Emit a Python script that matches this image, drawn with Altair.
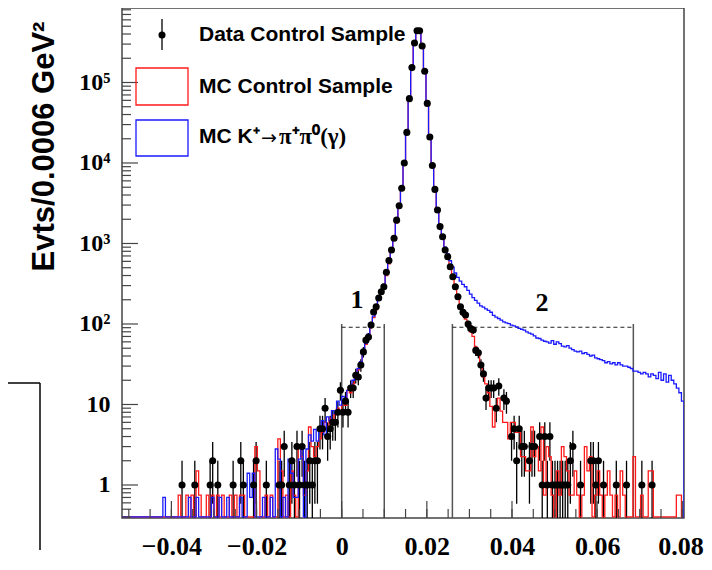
import altair as alt
import pandas as pd

# ---------------- values ----------------
X_DOMAIN = [-0.0516, 0.0804]
Y_DOMAIN = [0.389, 8.42e5]
BIN_START = -0.0516
BIN_WIDTH = 0.0006

DATA_COUNTS = [
    0, 0, 0, 0, 0, 0, 0, 0, 0, 0,
    0, 0, 0, 0, 0, 0, 0, 0, 0, 0,
    0, 0, 0, 1, 0, 0, 0, 0, 1, 0,
    0, 0, 0, 0, 1, 2, 0, 1, 0, 0,
    0, 0, 0, 1, 0, 0, 2, 1, 0, 0,
    0, 1, 2, 0, 0, 0, 1, 0, 0, 0,
    0, 1, 1, 3, 0, 1, 2, 1, 3, 1,
    3, 1, 1, 2, 1, 2, 2, 5, 5, 9,
    4, 5, 6, 6, 8, 15, 8, 11, 8, 16,
    16, 23, 22, 31, 45, 63, 69, 97, 141, 164,
    210, 252, 290, 440, 615, 830, 1160, 1950, 2950, 4850,
    10000, 24000, 63000, 153000, 310000, 440000, 440000, 284000, 138000, 55000,
    21000, 9300, 4700, 2600, 1620, 1215, 830, 685, 515, 387,
    290, 218, 164, 140, 129, 100, 88, 84, 47, 44,
    31, 24, 12, 16, 16, 16, 9, 17, 0, 12,
    11, 0, 4, 5, 2, 5, 3, 3, 0, 2,
    3, 3, 0, 4, 1, 4, 1, 4, 1, 1,
    1, 1, 1, 1, 1, 2, 3, 0, 0, 1,
    0, 0, 0, 2, 2, 1, 2, 0, 1, 0,
    0, 0, 0, 1, 0, 0, 0, 1, 0, 0,
    0, 0, 0, 1, 0, 0, 0, 1, 0, 0,
    0, 0, 0, 0, 0, 0, 0, 0, 0, 0,
]

MC_CONTROL = [
    0, 0, 0, 0, 0, 0, 0, 0, 0, 0,
    0, 0, 0, 0, 0, 0, 0, 0, 0, 0,
    0, 0, 0.75, 0, 0, 0.75, 0, 0.75, 0, 1.5,
    0.75, 0, 0, 0.75, 0, 0.75, 0, 0.75, 0, 0.75,
    0, 0, 0.75, 0, 0.75, 0, 0.75, 0.75, 0, 0,
    0, 0, 3, 1.5, 0, 0, 0.75, 0, 0.75, 0,
    0, 3.75, 1.5, 0, 0.75, 0, 1.5, 0.75, 0, 3,
    2.25, 0.75, 1.5, 5.25, 3, 2.25, 3, 3.75, 4.5, 6,
    5.25, 6.75, 6, 7.5, 9, 8.25, 11, 9.75, 15, 14,
    18, 22, 27, 32, 42, 56, 72, 90, 120, 150,
    200, 250, 300, 400, 560, 800, 1150, 1800, 2900, 4700,
    9800, 23000, 62000, 150000, 300000, 430000, 430000, 280000, 135000, 54000,
    20000, 9000, 4500, 2500, 1550, 1150, 780, 640, 480, 360,
    270, 205, 155, 130, 115, 95, 80, 70, 52, 42,
    30, 22, 18, 14, 9.5, 5.25, 9, 12, 8.25, 6,
    6, 3.75, 6, 6, 4.5, 4.5, 2.25, 2.25, 1.5, 1.5,
    5.25, 2.25, 3, 1.5, 5.25, 0.75, 3, 2.25, 0.75, 0,
    1.5, 0.75, 3, 2.25, 1.5, 0.75, 0.75, 1.5, 0.75, 0,
    0.75, 3, 1.5, 2.25, 0, 0.75, 1.5, 0.75, 0, 0.75,
    1.5, 0.75, 0, 0.75, 0, 1.5, 0.75, 0, 0, 0,
    2.25, 0, 0, 0.75, 0, 0, 1.5, 1.5, 0, 0,
    0, 0, 0, 0, 0, 0, 0, 0.75, 0.75, 0,
]

MC_KPI = [
    0, 0, 0, 0, 0, 0, 0, 0, 0, 0,
    0, 0, 0, 0, 0, 0, 0.7, 0, 0, 0,
    0, 0, 0, 0, 0, 0, 0.7, 0, 0, 0.7,
    0, 0, 0, 0, 0, 0.7, 0, 0, 0.7, 0,
    0, 0.7, 0, 0, 0, 0, 0.7, 0, 0, 1.4,
    0.7, 1.4, 0, 0, 0, 0.7, 0, 0, 0.7, 0,
    2.8, 2.1, 0, 0.7, 0, 2.1, 1.4, 0.7, 0.7, 2.1,
    2.8, 0, 2.8, 4.2, 3.5, 4.9, 3.5, 4.9, 6.3, 4.2,
    7, 6.3, 8.4, 7.7, 11, 9.8, 12.6, 11.2, 15, 16,
    20, 24, 28, 34, 44, 58, 75, 95, 125, 160,
    205, 255, 310, 420, 580, 820, 1200, 1900, 3000, 5000,
    10500, 25000, 64000, 155000, 310000, 440000, 445000, 290000, 140000, 56000,
    21000, 9500, 4800, 2700, 1700, 1250, 900, 750, 610, 510,
    430, 380, 340, 310, 290, 262, 235, 212, 196, 182,
    168, 162, 154, 148, 140, 128, 122, 117, 112, 106,
    103, 101, 97, 95, 92, 88, 86, 84, 80, 77,
    75, 71, 67, 66, 63, 61, 60, 58, 62, 56,
    60, 57, 53, 52, 54, 50, 48, 46, 45, 46,
    43, 44, 42, 40, 41, 38, 37, 36, 35, 33,
    34, 32, 33, 31, 33, 31, 30, 30, 29, 28,
    26, 26, 25, 24, 25, 24, 22, 24, 23, 21,
    25, 20, 24, 19, 23, 20, 18, 16, 14, 11,
]

REGION_EDGES = [0.0, 0.01, 0.026, 0.0685]
REGION_TOP = 100
REGION_DASH = 91

X_TICK_LABELS = [-0.04, -0.02, 0, 0.02, 0.04, 0.06, 0.08]
Y_TICK_LABELS = [1, 10, 100, 1000, 10000, 100000]

LEGEND_LABELS = ["Data Control Sample", "MC Control Sample", "MC K\u207a", "\u2192", "\u03c0\u207a\u03c0\u2070(\u03b3)"]
Y_TITLE = "Evts/0.0006 GeV\u00b2"

W, H = 562, 510
FLOOR = Y_DOMAIN[0] * 1.035   # empty bins drawn along the bottom of the frame


# ---------------- tables ----------------
def step_table(values):
    rows = [{"x": BIN_START, "y": FLOOR, "o": -1}]
    for i, v in enumerate(values):
        lo = BIN_START + i * BIN_WIDTH
        y = v if v > 0 else FLOOR
        rows.append({"x": lo, "y": y, "o": 2 * i})
        rows.append({"x": lo + BIN_WIDTH, "y": y, "o": 2 * i + 1})
    rows.append({"x": BIN_START + len(values) * BIN_WIDTH, "y": FLOOR * 0.5, "o": 2 * len(values)})
    return pd.DataFrame(rows)


red_df = step_table(MC_CONTROL)
blue_df = step_table(MC_KPI)

pts = []
for i, n in enumerate(DATA_COUNTS):
    if n > 0:
        err = n ** 0.5
        lo = n - err
        pts.append({"x": BIN_START + (i + 0.5) * BIN_WIDTH, "y": n,
                    "lo": lo if lo > 0 else Y_DOMAIN[0] * 0.1, "hi": n + err})
pts_df = pd.DataFrame(pts)

sup = {100: "10\u00b2", 1000: "10\u00b3", 10000: "10\u2074", 100000: "10\u2075"}
y_label_expr = ("datum.value == 1 ? '1' : datum.value == 10 ? '10' : "
                "datum.value == 100 ? '%s' : datum.value == 1000 ? '%s' : "
                "datum.value == 10000 ? '%s' : '%s'") % (sup[100], sup[1000], sup[10000], sup[100000])
x_label_expr = ("datum.value == 0 ? '0' : (datum.value < 0 ? '\u2212' : '') + "
                "format(abs(datum.value), '.2f')")

x_scale = alt.Scale(domain=X_DOMAIN, nice=False, zero=False)
y_scale = alt.Scale(type="log", domain=Y_DOMAIN, nice=False)

x_axis = alt.Axis(values=X_TICK_LABELS, labelExpr=x_label_expr, ticks=False, domain=False,
                  grid=False, title=None, labelFont="Liberation Serif", labelFontWeight="bold",
                  labelFontSize=26, labelColor="black", labelPadding=15, labelFlush=6,
                  labelFlushOffset=21, labelOverlap=False)
y_axis = alt.Axis(values=Y_TICK_LABELS, labelExpr=y_label_expr, ticks=False, domain=False,
                  grid=False, title=Y_TITLE, labelFont="Liberation Serif", labelFontWeight="bold",
                  labelFontSize=24, labelColor="black", labelPadding=12, labelFlush=False,
                  labelOverlap=False, titleFont="Liberation Sans", titleFontWeight="bold",
                  titleFontSize=31, titleColor="black", titleAngle=270, titleX=-78, titleY=138,
                  titleAlign="center", titleBaseline="middle")


def X(field):
    return alt.X(field, type="quantitative", scale=x_scale, axis=x_axis)


def Y(field):
    return alt.Y(field, type="quantitative", scale=y_scale, axis=y_axis)


err_layer = alt.Chart(pts_df).mark_rule(color="black", strokeWidth=1.3, clip=True).encode(
    x=X("x"), y=Y("lo"), y2="hi")
red_layer = alt.Chart(red_df).mark_line(color="#ff1a1a", strokeWidth=1.3, clip=True).encode(
    x=X("x"), y=Y("y"), order="o:Q")
blue_layer = alt.Chart(blue_df).mark_line(color="#1a1aff", strokeWidth=1.3, clip=True).encode(
    x=X("x"), y=Y("y"), order="o:Q")
dot_layer = alt.Chart(pts_df).mark_point(filled=True, shape="circle", size=50, color="black",
                                         opacity=1, clip=True).encode(x=X("x"), y=Y("y"))

# region boxes
reg_df = pd.DataFrame({"x": REGION_EDGES, "lo": [Y_DOMAIN[0]] * 4, "hi": [REGION_TOP] * 4})
reg_v = alt.Chart(reg_df).mark_rule(color="#555555", strokeWidth=1.5).encode(
    x=X("x"), y=Y("lo"), y2="hi")
dash_df = pd.DataFrame({"x": [REGION_EDGES[0], REGION_EDGES[2]], "x2": [REGION_EDGES[1], REGION_EDGES[3]],
                        "y": [REGION_DASH, REGION_DASH]})
reg_h = alt.Chart(dash_df).mark_rule(color="#222222", strokeWidth=1.1, strokeDash=[4, 3]).encode(
    x=X("x"), x2="x2", y=Y("y"))

# inside ticks (ROOT style)
minor_y = [m * 10 ** k for k in range(-1, 6) for m in range(2, 10) if Y_DOMAIN[0] < m * 10 ** k < Y_DOMAIN[1]]
ytick_major = alt.Chart(pd.DataFrame({"v": Y_TICK_LABELS})).mark_rule(color="#444444", strokeWidth=1.2).encode(
    x=alt.value(0), x2=alt.value(16), y=Y("v"))
ytick_minor = alt.Chart(pd.DataFrame({"v": minor_y})).mark_rule(color="#444444", strokeWidth=1.2).encode(
    x=alt.value(0), x2=alt.value(9), y=Y("v"))
minor_x = [round(-0.05 + 0.005 * k, 4) for k in range(27)]
xtick_major = alt.Chart(pd.DataFrame({"v": X_TICK_LABELS})).mark_rule(color="#444444", strokeWidth=1.2).encode(
    x=X("v"), y=alt.value(H), y2=alt.value(H - 17))
xtick_minor = alt.Chart(pd.DataFrame({"v": minor_x})).mark_rule(color="#444444", strokeWidth=1.2).encode(
    x=X("v"), y=alt.value(H), y2=alt.value(H - 9))

one = pd.DataFrame({"a": [0]})
font_leg = dict(font="Liberation Sans", fontWeight="bold", fontSize=21, color="black",
                align="left", baseline="middle")
font_sym = dict(font="DejaVu Sans", fontSize=19, color="black", align="left", baseline="middle")
font_greek = dict(font="Liberation Serif", fontWeight="bold", fontSize=23, color="black",
                  align="left", baseline="middle")

leg = [
    alt.Chart(one).mark_rule(color="black", strokeWidth=1.3).encode(
        x=alt.value(40), y=alt.value(11), y2=alt.value(42)),
    alt.Chart(one).mark_point(filled=True, shape="circle", size=50, color="black", opacity=1).encode(
        x=alt.value(40), y=alt.value(27)),
    alt.Chart(one).mark_text(**font_leg).encode(x=alt.value(77), y=alt.value(27), text=alt.value(LEGEND_LABELS[0])),
    alt.Chart(one).mark_rect(fillOpacity=0, stroke="#ff1a1a", strokeWidth=1.3).encode(
        x=alt.value(14), x2=alt.value(66), y=alt.value(60), y2=alt.value(97)),
    alt.Chart(one).mark_text(**font_leg).encode(x=alt.value(77), y=alt.value(79), text=alt.value(LEGEND_LABELS[1])),
    alt.Chart(one).mark_rect(fillOpacity=0, stroke="#1a1aff", strokeWidth=1.3).encode(
        x=alt.value(14), x2=alt.value(66), y=alt.value(112), y2=alt.value(148)),
    alt.Chart(one).mark_text(**font_leg).encode(x=alt.value(77), y=alt.value(129), text=alt.value(LEGEND_LABELS[2])),
    alt.Chart(one).mark_text(**font_sym).encode(x=alt.value(139), y=alt.value(130), text=alt.value(LEGEND_LABELS[3])),
    alt.Chart(one).mark_text(**font_greek).encode(x=alt.value(157), y=alt.value(129), text=alt.value(LEGEND_LABELS[4])),
]

font_reg = dict(font="Liberation Serif", fontWeight="bold", fontSize=26, color="black",
                align="center", baseline="middle")
reg_labels = [
    alt.Chart(one).mark_text(**font_reg).encode(x=alt.value(235), y=alt.value(292), text=alt.value("1")),
    alt.Chart(one).mark_text(**font_reg).encode(x=alt.value(420), y=alt.value(295), text=alt.value("2")),
]

# stray frame fragment at the lower left of the page
stray = [
    alt.Chart(one).mark_rule(color="black", strokeWidth=1.5).encode(
        x=alt.value(-125), x2=alt.value(-82), y=alt.value(375)),
    alt.Chart(one).mark_rule(color="black", strokeWidth=1.5).encode(
        x=alt.value(-82), y=alt.value(375), y2=alt.value(542)),
]

chart = alt.layer(
    reg_v, reg_h, err_layer, red_layer, blue_layer, dot_layer,
    ytick_major, ytick_minor, xtick_major, xtick_minor,
    *leg, *reg_labels, *stray
).properties(
    width=W, height=H,
    autosize=alt.AutoSizeParams(type="none"),
    padding={"left": 114, "top": 0, "right": 20, "bottom": 44},
    background="white",
).configure_view(stroke="#444444", strokeWidth=1.5)

chart.save("out.html", embed_options={"renderer": "svg", "actions": False})
